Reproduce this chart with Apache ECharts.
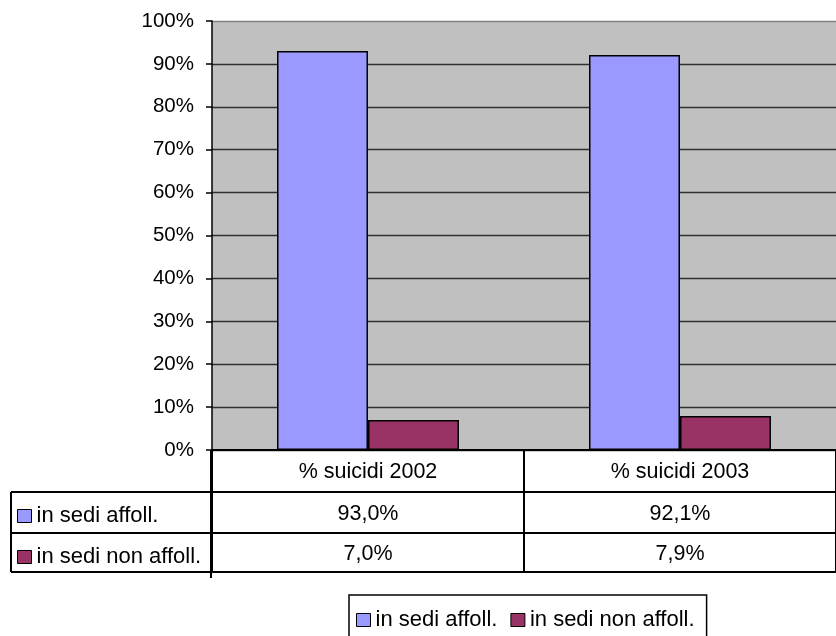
<!DOCTYPE html>
<html>
<head>
<meta charset="utf-8">
<script src="https://cdn.jsdelivr.net/npm/echarts@6/dist/echarts.min.js"></script>
<style>
html,body{margin:0;padding:0;background:#fff;}
#c{width:836px;height:636px;}
</style>
</head>
<body>
<div id="c"></div>
<script>
const categories = ['% suicidi 2002', '% suicidi 2003'];
const seriesNames = ['in sedi affoll.', 'in sedi non affoll.'];
const affollValues = [93.0, 92.1];
const nonAffollValues = [7.0, 7.9];
const yTicks = [0, 10, 20, 30, 40, 50, 60, 70, 80, 90, 100];

const FONT = 'Liberation Sans, Arial, sans-serif';
const GL = 212, GT = 21, GB = 450, GR = -6;
const ROW1 = 492, ROW2 = 533, ROW3 = 572;

function fmt(v) { return v.toFixed(1).replace('.', ',') + '%'; }

const chart = echarts.init(document.getElementById('c'));
const splitColors = yTicks.map((t, i) => i === yTicks.length - 1 ? '#808080' : '#303030');

const option = {
  animation: false,
  backgroundColor: '#ffffff',
  grid: {
    left: GL, top: GT, right: GR, bottom: 636 - GB,
    show: true, backgroundColor: '#c0c0c0', borderWidth: 0
  },
  xAxis: [
    {
      type: 'category', data: categories, position: 'bottom',
      axisLine: { show: true, onZero: false, lineStyle: { color: '#000', width: 2 } },
      axisTick: { show: true, inside: false, length: ROW3 - GB, lineStyle: { color: '#000', width: 2 } },
      axisLabel: { margin: 11, color: '#000', fontFamily: FONT, fontSize: 21.5 }
    },
    {
      type: 'category', data: categories, position: 'bottom', offset: ROW1 - GB,
      axisLine: { show: false }, axisTick: { show: false },
      axisLabel: { margin: 11, color: '#000', fontFamily: FONT, fontSize: 21.5,
        formatter: (v, i) => fmt(affollValues[i]) }
    },
    {
      type: 'category', data: categories, position: 'bottom', offset: ROW2 - GB,
      axisLine: { show: false }, axisTick: { show: false },
      axisLabel: { margin: 10, color: '#000', fontFamily: FONT, fontSize: 21.5,
        formatter: (v, i) => fmt(nonAffollValues[i]) }
    }
  ],
  yAxis: {
    type: 'value', min: yTicks[0], max: yTicks[yTicks.length - 1], interval: 10,
    axisLine: { show: true, lineStyle: { color: '#000', width: 1.5 } },
    axisTick: { show: true, length: 6, lineStyle: { color: '#000', width: 1.5 } },
    axisLabel: { margin: 18, color: '#000', fontFamily: FONT, fontSize: 20.5, formatter: '{value}%' },
    splitLine: { show: true, lineStyle: { color: splitColors, width: 1.3 } }
  },
  legend: [
    {
      data: seriesNames, orient: 'horizontal', left: 349, top: 595,
      itemWidth: 14, itemHeight: 13, itemGap: 13, icon: 'rect',
      padding: [14, 12, 30, 7],
      borderColor: '#000', borderWidth: 1.5,
      textStyle: { color: '#000', fontFamily: FONT, fontSize: 22 },
      itemStyle: { borderColor: '#000', borderWidth: 1 }
    },
    {
      data: seriesNames, orient: 'vertical', left: 13, top: ROW1 + 9,
      itemWidth: 14, itemHeight: 13, itemGap: 19, icon: 'rect', padding: 4,
      selectedMode: false,
      textStyle: { color: '#000', fontFamily: FONT, fontSize: 22, lineHeight: 22 },
      itemStyle: { borderColor: '#000', borderWidth: 1 }
    }
  ],
  series: [
    {
      name: seriesNames[0], type: 'bar', data: affollValues, barWidth: 91, barGap: '0%',
      itemStyle: { color: '#9999ff', borderColor: '#000', borderWidth: 1.5 }
    },
    {
      name: seriesNames[1], type: 'bar', data: nonAffollValues, barWidth: 91, barGap: '0%',
      itemStyle: { color: '#993366', borderColor: '#000', borderWidth: 1.5 }
    }
  ],
  graphic: [
    { type: 'line', shape: { x1: 11, y1: ROW1, x2: 836, y2: ROW1 }, style: { stroke: '#000', lineWidth: 2 } },
    { type: 'line', shape: { x1: 11, y1: ROW2, x2: 836, y2: ROW2 }, style: { stroke: '#000', lineWidth: 2 } },
    { type: 'line', shape: { x1: 11, y1: ROW3, x2: 836, y2: ROW3 }, style: { stroke: '#000', lineWidth: 2 } },
    { type: 'line', shape: { x1: 11, y1: ROW1, x2: 11, y2: ROW3 }, style: { stroke: '#000', lineWidth: 2 } },
    { type: 'line', shape: { x1: 211, y1: GB, x2: 211, y2: ROW3 + 6 }, style: { stroke: '#000', lineWidth: 2 } }
  ]
};
chart.setOption(option);
</script>
</body>
</html>
